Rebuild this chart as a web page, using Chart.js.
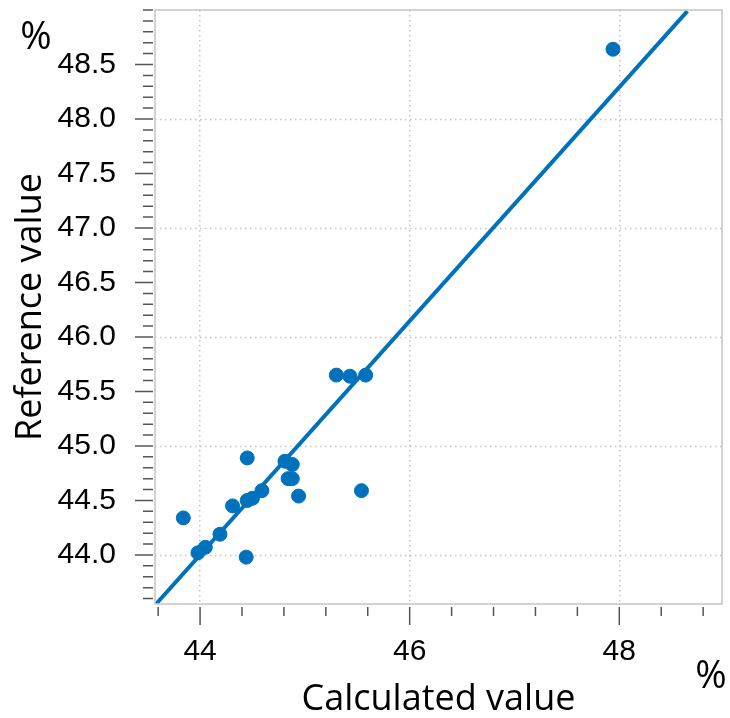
<!DOCTYPE html>
<html>
<head>
<meta charset="utf-8">
<script src="https://cdn.jsdelivr.net/npm/chart.js@4"></script>
<style>
  html, body { margin: 0; padding: 0; background: #fff; }
  #wrap { width: 730px; height: 718px; }
</style>
</head>
<body>
<div id="wrap"><canvas id="chart"></canvas></div>
<script>
// calculated (x) vs reference (y), in %
const calcValues = [45.30, 45.43, 45.58, 44.45, 44.81, 44.88, 44.84, 44.88, 44.59, 45.54,
                    44.94, 44.45, 44.50, 44.31, 43.84, 44.19, 44.05, 43.98, 44.44, 47.94];
const refValues  = [45.65, 45.64, 45.65, 44.89, 44.86, 44.83, 44.70, 44.70, 44.59, 44.59,
                    44.54, 44.50, 44.52, 44.45, 44.34, 44.19, 44.07, 44.02, 43.98, 48.64];

// regression line end points
const fitX = [43.58, 48.65];
const fitY = [43.55, 48.99];

const xTickLabels = [44, 46, 48];
const yTickLabels = [44.0, 44.5, 45.0, 45.5, 46.0, 46.5, 47.0, 47.5, 48.0, 48.5];
const yGridValues = [44, 45, 46, 47, 48];
const xMinorStep = 0.4;
const yMinorStep = 0.1;

const BLUE = '#0072bd';
const GRID = '#c4c4c4';

const points = calcValues.map((v, i) => ({ x: v, y: refValues[i] }));
const fitLine = fitX.map((v, i) => ({ x: v, y: fitY[i] }));

// dotted horizontal grid at whole numbers only
const yGridPlugin = {
  id: 'yGrid',
  beforeDatasetsDraw(chart) {
    const ctx = chart.ctx;
    const a = chart.chartArea;
    const ys = chart.scales.y;
    ctx.save();
    ctx.strokeStyle = GRID;
    ctx.lineWidth = 1.5;
    ctx.setLineDash([1.5, 3.5]);
    ctx.beginPath();
    yGridValues.forEach(v => {
      const py = Math.round(ys.getPixelForValue(v)) + 0.5;
      ctx.moveTo(a.left, py);
      ctx.lineTo(a.right, py);
    });
    ctx.stroke();
    ctx.restore();
  }
};

// frame, outside ticks and the two "%" unit labels
const decorPlugin = {
  id: 'decor',
  afterDraw(chart) {
    const ctx = chart.ctx;
    const a = chart.chartArea;
    const xs = chart.scales.x, ys = chart.scales.y;
    ctx.save();
    ctx.strokeStyle = GRID;
    ctx.lineWidth = 1.5;
    ctx.strokeRect(a.left, a.top, a.right - a.left, a.bottom - a.top);

    ctx.strokeStyle = '#555';
    ctx.lineWidth = 1.5;
    ctx.beginPath();
    for (let k = 0; ; k++) {
      const v = 43.6 + k * xMinorStep;
      if (v > xs.max) break;
      const px = xs.getPixelForValue(v);
      const major = xTickLabels.some(t => Math.abs(t - v) < 1e-6);
      ctx.moveTo(px, a.bottom + 3);
      ctx.lineTo(px, a.bottom + (major ? 21 : 12));
    }
    for (let k = 0; ; k++) {
      const v = 43.6 + k * yMinorStep;
      if (v > ys.max) break;
      const py = ys.getPixelForValue(v);
      const major = yTickLabels.some(t => Math.abs(t - v) < 1e-6);
      ctx.moveTo(a.left - 2, py);
      ctx.lineTo(a.left - (major ? 20 : 12), py);
    }
    ctx.stroke();

    ctx.fillStyle = '#000';
    ctx.font = '38px "Open Sans"';
    ctx.textAlign = 'center';
    ctx.textBaseline = 'middle';
    ctx.fillText('%', 36, 38);
    ctx.fillText('%', 711, 677);
    ctx.restore();
  }
};

const ctx = document.getElementById('chart').getContext('2d');
new Chart(ctx, {
  type: 'scatter',
  data: {
    datasets: [
      {
        label: 'Fit',
        type: 'line',
        data: fitLine,
        borderColor: BLUE,
        borderWidth: 4,
        pointRadius: 0,
        fill: false,
      },
      {
        label: 'Samples',
        data: points,
        backgroundColor: BLUE,
        borderColor: BLUE,
        pointRadius: 7,
        pointHoverRadius: 7,
      }
    ]
  },
  options: {
    responsive: true,
    maintainAspectRatio: false,
    animation: false,
    layout: { padding: { top: 10, right: 3, left: 0, bottom: 0 } },
    plugins: { legend: { display: false }, tooltip: { enabled: false } },
    scales: {
      x: {
        type: 'linear',
        min: 43.57,
        max: 48.98,
        afterBuildTicks: s => { s.ticks = xTickLabels.map(v => ({ value: v })); },
        afterFit: s => { s.height = 114; s.paddingLeft = 0; s.paddingRight = 0; },
        grid: { color: GRID, lineWidth: 1.5, drawTicks: false },
        border: { display: false, dash: [1.5, 3.5] },
        ticks: { color: '#000', padding: 30, font: { family: 'Liberation Sans', size: 30 } },
        title: {
          display: true, text: 'Calculated value', color: '#000',
          font: { family: 'Open Sans', size: 36, lineHeight: 1 },
          padding: { top: 3, bottom: 0 }
        }
      },
      y: {
        type: 'linear',
        min: 43.55,
        max: 49.0,
        afterBuildTicks: s => { s.ticks = yTickLabels.map(v => ({ value: v })); },
        afterFit: s => { s.width = 155; s.paddingTop = 0; s.paddingBottom = 0; },
        grid: { display: false },
        border: { display: false },
        ticks: {
          color: '#000', padding: 31,
          font: { family: 'Liberation Sans', size: 30 },
          callback: v => Number(v).toFixed(1)
        },
        title: {
          display: true, text: 'Reference value', color: '#000',
          font: { family: 'Open Sans', size: 36, lineHeight: 1 },
          padding: { top: 13, bottom: 0 }
        }
      }
    }
  },
  plugins: [yGridPlugin, decorPlugin]
});
</script>
</body>
</html>
